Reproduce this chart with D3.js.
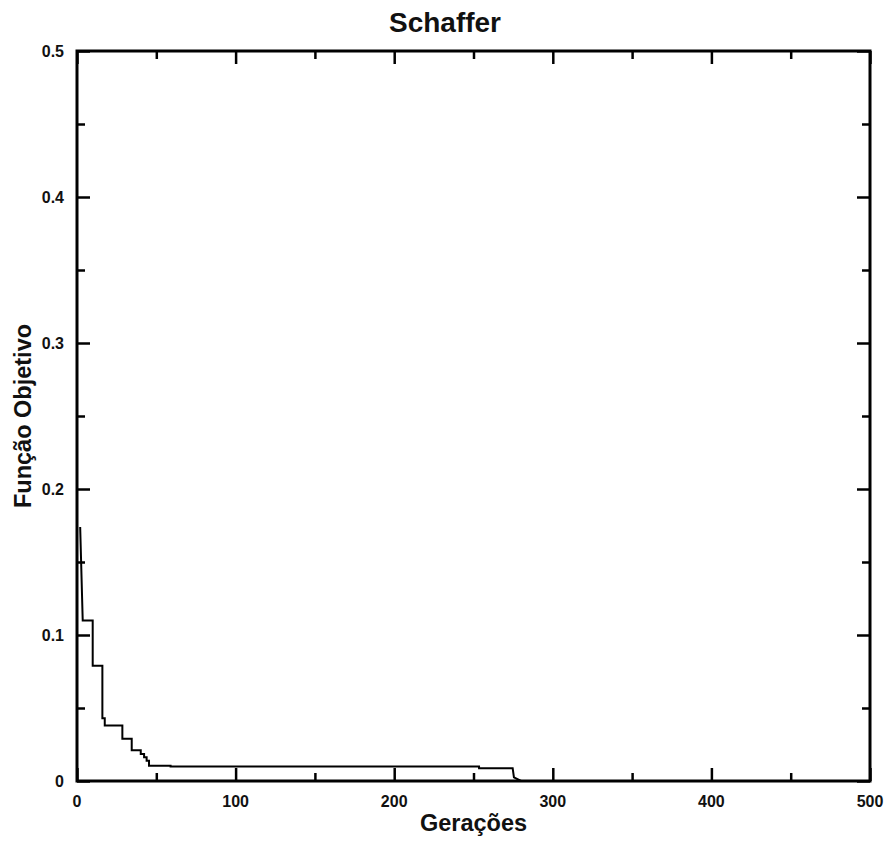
<!DOCTYPE html>
<html>
<head>
<meta charset="utf-8">
<script src="https://cdn.jsdelivr.net/npm/d3@7"></script>
<style>
  html, body { margin: 0; padding: 0; background: #fff; }
  svg { display: block; }
  text { font-family: "Liberation Sans", Arial, sans-serif; font-weight: bold; fill: #111; }
</style>
</head>
<body>
<svg id="chart" width="887" height="841"></svg>
<script>
// ---- data ----
const generations = [2, 3.6, 9.9, 9.9, 16, 16, 17.5, 17.5, 28.6, 28.6, 34.5, 34.5, 40.2, 40.2, 42.3, 42.3, 43.9, 43.9, 45.4, 45.4, 59, 59, 253.5, 253.5, 274.7, 275.5, 280, 500];
const objective   = [0.174, 0.110, 0.110, 0.079, 0.079, 0.043, 0.043, 0.038, 0.038, 0.029, 0.029, 0.021, 0.021, 0.0185, 0.0185, 0.0162, 0.0162, 0.0139, 0.0139, 0.0105, 0.0105, 0.0100, 0.0100, 0.0087, 0.0087, 0.0025, 0, 0];
const xMajorTicks = [0, 100, 200, 300, 400, 500];
const xMinorTicks = [50, 150, 250, 350, 450];
const yMajorTicks = [0, 0.1, 0.2, 0.3, 0.4, 0.5];
const yMinorTicks = [0.05, 0.15, 0.25, 0.35, 0.45];
const yTickLabels = ["0", "0.1", "0.2", "0.3", "0.4", "0.5"];
const titleText = "Schaffer";
const xLabelText = "Gerações";
const yLabelText = "Função Objetivo";

// ---- layout ----
const L = 77, R = 870, T = 51, B = 781;
const svg = d3.select("#chart");
const x = d3.scaleLinear().domain([0, 500]).range([L, R]);
const y = d3.scaleLinear().domain([0, 0.5]).range([B, T]);

const majorLen = 13, minorLen = 8;

// tick marks on all four sides (inward)
function ticksGroup(axisGen, transform) {
  const g = svg.append("g").attr("transform", transform).call(axisGen);
  g.select(".domain").remove();
  g.selectAll("line").attr("stroke", "#000").attr("stroke-width", 2.5);
  g.selectAll("text").remove();
  return g;
}
ticksGroup(d3.axisBottom(x).tickValues(xMajorTicks).tickSize(-majorLen), `translate(0,${B})`);
ticksGroup(d3.axisBottom(x).tickValues(xMinorTicks).tickSize(-minorLen), `translate(0,${B})`);
ticksGroup(d3.axisTop(x).tickValues(xMajorTicks).tickSize(-majorLen), `translate(0,${T})`);
ticksGroup(d3.axisTop(x).tickValues(xMinorTicks).tickSize(-minorLen), `translate(0,${T})`);
ticksGroup(d3.axisLeft(y).tickValues(yMajorTicks).tickSize(-majorLen), `translate(${L},0)`);
ticksGroup(d3.axisLeft(y).tickValues(yMinorTicks).tickSize(-minorLen), `translate(${L},0)`);
ticksGroup(d3.axisRight(y).tickValues(yMajorTicks).tickSize(-majorLen), `translate(${R},0)`);
ticksGroup(d3.axisRight(y).tickValues(yMinorTicks).tickSize(-minorLen), `translate(${R},0)`);

// tick labels
svg.append("g").selectAll("text").data(xMajorTicks).join("text")
  .attr("x", d => x(d)).attr("y", 807)
  .attr("text-anchor", "middle").attr("font-size", 16)
  .text(d => d3.format("d")(d));
svg.append("g").selectAll("text").data(yMajorTicks).join("text")
  .attr("x", 64).attr("y", d => y(d)).attr("dy", "0.36em")
  .attr("text-anchor", "end").attr("font-size", 16)
  .text((d, i) => yTickLabels[i]);

// data line
const line = d3.line().x(d => x(d[0])).y(d => y(d[1]));
svg.append("path")
  .datum(generations.map((g, i) => [g, objective[i]]))
  .attr("d", line)
  .attr("fill", "none").attr("stroke", "#000").attr("stroke-width", 2)
  .attr("stroke-linejoin", "miter");

// frame
svg.append("rect").attr("x", L).attr("y", T).attr("width", R - L).attr("height", B - T)
  .attr("fill", "none").attr("stroke", "#000").attr("stroke-width", 3);

// titles
svg.append("text").attr("x", 445).attr("y", 32).attr("text-anchor", "middle")
  .attr("font-size", 28).text(titleText);
svg.append("text").attr("x", (L + R) / 2).attr("y", 831).attr("text-anchor", "middle")
  .attr("font-size", 23.5).text(xLabelText);
svg.append("text").attr("transform", `translate(31,${(T + B) / 2}) rotate(-90)`)
  .attr("text-anchor", "middle").attr("font-size", 23.5).text(yLabelText);
</script>
</body>
</html>
